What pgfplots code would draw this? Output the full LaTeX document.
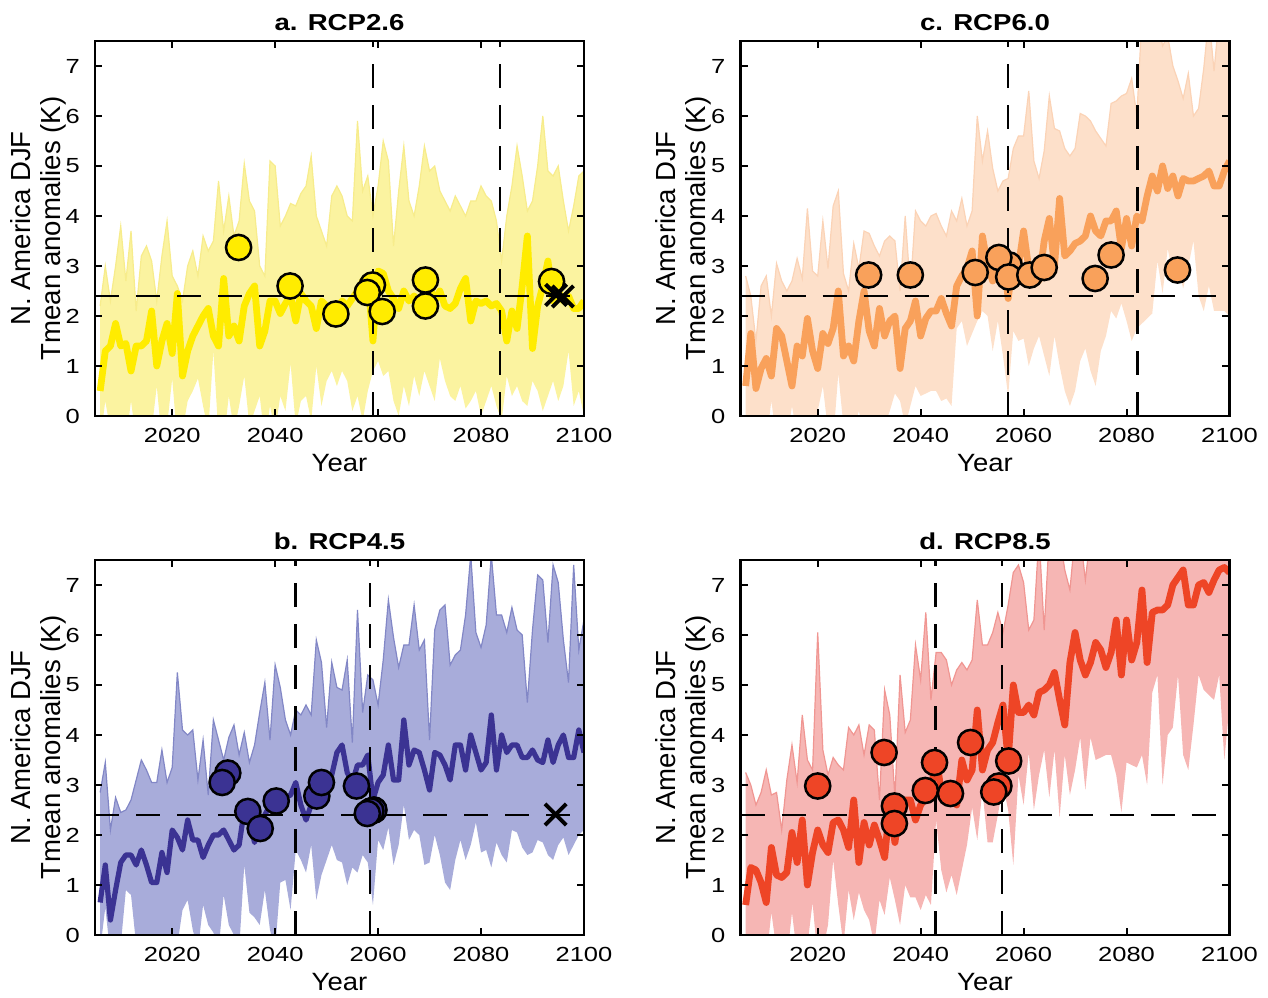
\documentclass[border=0pt]{standalone}
\usepackage{fontspec}
\setmainfont{Liberation Sans}
\usepackage{pgfplots}
\pgfplotsset{compat=1.18}
\usepackage{pgfplotstable}
\usepgfplotslibrary{fillbetween}

\definecolor{ya}{RGB}{255,236,0}
\definecolor{yband}{RGB}{251,243,160}
\definecolor{yedge}{RGB}{247,236,140}
\definecolor{oc}{RGB}{249,161,91}
\definecolor{oband}{RGB}{253,224,202}
\definecolor{oedge}{RGB}{251,211,182}
\definecolor{bc}{RGB}{59,51,147}
\definecolor{bband}{RGB}{168,172,218}
\definecolor{bedge}{RGB}{130,135,198}
\definecolor{rc}{RGB}{238,69,38}
\definecolor{rband}{RGB}{246,182,180}
\definecolor{redge}{RGB}{240,150,146}

\pgfplotstableread{
yr mean up lo
2006 0.5 2.2 -0.5
2007 1.3 3.0 0.3
2008 1.4 2.3 -0.3
2009 1.85 3.0 -0.5
2010 1.4 3.8 -0.3
2011 1.45 2.7 -0.5
2012 0.9 3.7 0.3
2013 1.4 2.1 -0.5
2014 1.4 3.2 -0.4
2015 1.5 3.4 -0.5
2016 2.1 3.1 -0.3
2017 1.0 2.3 0.6
2018 1.5 3.2 -0.5
2019 1.85 3.9 -0.2
2020 1.25 2.8 0.75
2021 2.45 2.6 -0.5
2022 0.8 2.3 -0.3
2023 1.3 3.0 0.3
2024 1.6 3.3 0.5
2025 1.8 2.8 0.75
2026 2.0 3.6 0.2
2027 2.15 3.3 -0.3
2028 1.6 3.5 1.3
2029 1.4 4.7 -0.4
2030 2.75 3.7 -0.5
2031 1.6 4.4 0.4
2032 1.8 3.6 -0.3
2033 1.5 3.9 0.2
2034 2.2 5.05 0.8
2035 2.45 4.3 -0.2
2036 2.6 4.1 0.1
2037 1.4 3.0 0.4
2038 1.7 2.8 -0.5
2039 2.3 5.1 0.2
2040 2.3 5.0 -0.3
2041 2.05 3.8 0.4
2042 2.25 4.0 0.1
2043 2.4 4.25 1.05
2044 1.9 4.2 -0.2
2045 2.45 4.45 0.3
2046 2.3 4.6 0.4
2047 2.2 5.2 -0.1
2048 1.75 4.0 1.0
2049 2.3 3.7 0.2
2050 2.2 3.4 0.7
2051 2.1 4.4 0.9
2052 2.15 4.6 0.6
2053 2.3 4.4 0.9
2054 2.2 4.0 0.7
2055 2.35 3.9 0.1
2056 2.5 5.9 0.4
2057 2.7 4.5 -0.1
2058 2.8 4.8 0.5
2059 1.5 4.0 0.9
2060 2.9 4.6 1.1
2061 2.85 5.5 0.8
2062 2.5 5.1 0.9
2063 2.35 3.4 0.3
2064 2.15 4.5 0.0
2065 2.5 5.4 0.6
2066 2.3 4.3 0.2
2067 2.4 4.0 0.8
2068 2.3 4.6 0.4
2069 2.45 5.4 0.9
2070 2.6 4.9 0.6
2071 2.3 5.0 0.3
2072 2.5 4.5 1.15
2073 2.2 4.3 0.7
2074 2.15 4.1 0.4
2075 2.25 4.4 0.3
2076 2.55 4.2 0.6
2077 2.75 4.0 0.15
2078 1.9 4.3 0.3
2079 2.3 4.3 0.5
2080 2.25 4.6 0.0
2081 2.3 4.4 0.3
2082 2.2 4.3 0.6
2083 2.25 3.9 0.2
2084 2.1 3.1 -0.1
2085 1.5 4.0 0.8
2086 2.1 4.6 0.4
2087 1.75 5.4 0.6
2088 2.6 4.8 0.3
2089 3.6 4.1 0.2
2090 1.35 4.3 0.7
2091 2.2 5.0 0.5
2092 2.6 6.0 0.1
2093 3.1 4.9 0.4
2094 2.3 4.8 0.7
2095 2.5 5.0 0.3
2096 2.3 4.3 0.6
2097 2.4 3.7 1.3
2098 2.15 4.2 0.2
2099 2.15 4.8 0.5
2100 2.3 4.9 0.0
}\tabA

\pgfplotstableread{
yr mean up lo
2006 0.6 2.8 -0.5
2007 1.65 2.4 -0.3
2008 0.55 1.5 -0.5
2009 0.95 2.6 -0.4
2010 1.15 2.8 -0.5
2011 0.8 2.0 0.3
2012 1.75 3.05 -0.5
2013 1.6 2.7 -0.3
2014 1.1 2.5 -0.5
2015 0.6 2.7 0.2
2016 1.4 3.15 -0.4
2017 1.2 2.75 -0.5
2018 1.95 4.15 -0.3
2019 1.3 2.9 -0.5
2020 0.95 2.8 0.1
2021 1.65 3.9 0.6
2022 1.45 2.95 -0.3
2023 1.75 4.2 -0.5
2024 2.5 4.5 0.85
2025 1.2 2.85 -0.2
2026 1.4 2.5 -0.5
2027 1.1 3.45 -0.3
2028 1.9 2.95 0.1
2029 2.5 3.7 -0.4
2030 1.7 3.65 -0.5
2031 1.4 3.4 -0.3
2032 2.15 3.2 -0.5
2033 1.6 3.5 -0.2
2034 1.9 3.6 0.1
2035 2.0 3.5 0.45
2036 0.95 2.5 0.3
2037 1.75 4.0 -0.2
2038 1.9 2.55 0.2
2039 2.3 4.1 0.6
2040 1.6 3.9 0.4
2041 1.95 3.8 0.45
2042 2.1 4.0 0.5
2043 2.1 4.05 0.5
2044 2.35 3.8 0.3
2045 2.05 3.6 0.35
2046 1.8 4.1 0.2
2047 2.6 3.9 1.75
2048 2.8 4.35 1.9
2049 2.95 3.8 1.4
2050 3.3 4.1 1.65
2051 2.0 6.0 1.9
2052 3.6 5.1 2.1
2053 3.0 5.7 2.0
2054 2.7 4.95 1.3
2055 3.0 4.5 1.9
2056 3.3 4.7 1.2
2057 2.35 4.75 0.4
2058 3.1 5.35 1.7
2059 3.0 5.6 1.5
2060 3.7 5.6 1.55
2061 2.95 6.5 1.0
2062 2.8 5.1 1.35
2063 2.7 4.75 1.6
2064 3.5 5.3 1.2
2065 3.95 6.4 0.8
2066 3.0 5.75 1.6
2067 4.35 5.7 1.0
2068 3.2 5.35 0.5
2069 3.3 5.2 0.2
2070 3.45 5.35 0.5
2071 3.5 6.05 1.1
2072 3.6 6.0 1.35
2073 4.0 5.9 0.9
2074 3.7 5.7 0.6
2075 3.6 5.55 1.3
2076 3.9 5.4 1.6
2077 3.9 6.25 2.1
2078 4.1 6.3 1.95
2079 3.35 6.4 2.25
2080 3.95 6.45 1.9
2081 3.4 6.75 1.5
2082 4.0 6.0 1.75
2083 3.9 8.0 1.85
2084 4.4 8.0 1.95
2085 4.8 7.6 2.05
2086 4.5 8.0 3.1
2087 5.0 7.4 2.45
2088 4.55 7.6 3.35
2089 4.8 7.0 2.8
2090 4.4 6.7 3.0
2091 4.75 6.35 2.55
2092 4.7 6.85 3.0
2093 4.7 6.0 3.5
2094 4.75 6.15 2.4
2095 4.8 6.95 2.1
2096 4.9 8.0 2.6
2097 4.6 6.9 2.1
2098 4.6 8.0 2.1
2099 4.9 8.0 2.1
2100 5.1 7.4 2.0
}\tabC

\pgfplotstableread{
yr mean up lo
2006 0.65 2.85 -0.3
2007 1.4 3.45 0.55
2008 0.3 2.1 -0.4
2009 0.9 2.75 -0.5
2010 1.45 2.45 -0.2
2011 1.6 2.5 0.9
2012 1.6 2.7 0.8
2013 1.4 3.1 -0.2
2014 1.7 3.5 -0.5
2015 1.4 3.3 -0.3
2016 1.05 3.05 -0.5
2017 1.05 3.05 -0.4
2018 1.65 3.7 -0.5
2019 1.25 3.05 -0.3
2020 2.1 3.35 -0.5
2021 1.95 5.25 -0.2
2022 1.7 4.1 0.5
2023 2.3 4.0 0.7
2024 1.9 4.1 0.1
2025 1.9 3.1 -0.3
2026 1.55 3.9 0.6
2027 1.8 2.8 0.2
2028 2.0 4.3 0.05
2029 2.0 3.9 -0.3
2030 2.1 3.5 0.8
2031 1.9 3.95 0.2
2032 1.7 4.2 0.0
2033 1.8 3.6 -0.3
2034 2.5 4.05 1.4
2035 2.3 3.45 0.45
2036 1.85 3.8 0.35
2037 2.25 4.45 0.2
2038 2.4 5.05 0.9
2039 2.6 3.9 0.1
2040 2.65 5.4 -0.3
2041 2.7 4.95 1.05
2042 2.75 4.3 1.1
2043 2.8 4.0 0.5
2044 3.05 4.5 1.7
2045 2.6 4.4 1.5
2046 2.3 4.6 1.25
2047 2.6 4.4 1.8
2048 2.85 5.9 0.7
2049 2.9 5.45 1.2
2050 3.0 4.15 1.5
2051 3.2 5.45 1.8
2052 3.65 4.95 1.5
2053 3.8 4.9 1.45
2054 3.25 5.5 1.0
2055 3.05 3.85 1.35
2056 3.4 6.5 1.25
2057 3.4 4.45 1.6
2058 3.6 5.2 1.45
2059 2.7 5.1 0.6
2060 3.05 4.6 1.9
2061 3.2 5.5 1.7
2062 3.8 6.7 2.15
2063 3.1 5.95 1.4
2064 3.1 5.35 1.8
2065 4.3 5.8 2.6
2066 3.4 5.8 1.9
2067 3.7 6.6 2.1
2068 3.65 5.7 2.0
2069 3.3 5.9 1.4
2070 2.9 3.9 1.45
2071 3.65 6.1 2.0
2072 3.6 6.5 1.6
2073 3.4 6.6 1.05
2074 3.1 5.4 0.9
2075 3.8 5.6 1.5
2076 3.8 5.7 1.9
2077 3.3 6.4 1.5
2078 4.0 7.6 1.8
2079 3.65 6.05 2.25
2080 3.3 5.75 1.65
2081 3.45 6.2 1.7
2082 4.4 7.6 1.35
2083 3.3 6.4 1.85
2084 4.0 6.4 1.6
2085 3.65 6.05 1.45
2086 3.8 6.55 2.1
2087 3.8 6.1 2.05
2088 3.55 6.0 1.75
2089 3.55 4.65 1.6
2090 3.7 6.1 1.65
2091 3.5 7.2 1.9
2092 3.45 7.1 1.85
2093 3.9 5.85 1.6
2094 3.45 7.4 1.5
2095 3.8 7.05 1.8
2096 4.0 5.9 1.95
2097 3.55 5.05 1.6
2098 3.55 7.4 1.8
2099 4.1 5.7 2.0
2100 3.65 6.3 2.1
}\tabB

\pgfplotstableread{
yr mean up lo
2006 0.6 3.25 -0.5
2007 1.35 3.0 -0.3
2008 1.3 2.6 -0.5
2009 1.05 2.85 -0.4
2010 0.65 3.3 -0.5
2011 1.75 2.8 0.45
2012 1.2 2.85 -0.3
2013 1.15 2.1 0.0
2014 1.25 3.1 -0.5
2015 2.05 3.8 0.45
2016 1.45 3.05 -0.4
2017 2.3 4.4 -0.5
2018 1.0 3.5 -0.2
2019 1.65 3.3 0.65
2020 2.1 6.05 -0.5
2021 1.8 3.7 -0.3
2022 1.65 3.2 0.2
2023 2.25 3.55 1.5
2024 2.3 3.4 0.6
2025 2.1 3.3 -0.2
2026 1.75 4.15 0.9
2027 2.7 4.0 0.3
2028 1.45 4.2 0.85
2029 2.25 3.6 0.5
2030 1.8 4.2 0.3
2031 2.2 4.1 -0.2
2032 1.9 2.7 0.7
2033 1.55 4.9 0.4
2034 2.6 4.4 1.15
2035 1.85 2.75 0.7
2036 2.55 5.2 0.2
2037 2.7 4.05 1.0
2038 2.7 4.3 0.75
2039 2.3 5.8 0.75
2040 2.6 5.1 0.5
2041 2.75 6.45 0.8
2042 2.85 4.7 0.6
2043 3.6 5.65 2.3
2044 2.85 5.65 1.3
2045 3.0 5.5 0.85
2046 3.0 5.0 1.2
2047 2.6 5.3 0.8
2048 3.5 5.45 1.3
2049 3.1 5.3 1.8
2050 3.3 5.5 2.55
2051 4.5 6.7 1.9
2052 3.3 5.8 2.9
2053 3.7 5.8 1.85
2054 3.85 6.05 1.85
2055 4.25 6.45 2.4
2056 4.6 6.05 3.0
2057 3.5 6.6 2.5
2058 5.0 7.25 1.4
2059 4.45 7.4 3.2
2060 4.45 7.05 2.6
2061 4.6 6.1 3.65
2062 4.4 6.3 2.5
2063 4.85 8.0 3.2
2064 4.9 6.1 3.7
2065 5.0 8.0 2.75
2066 5.25 8.0 3.7
2067 4.7 8.0 2.35
2068 4.2 7.3 3.6
2069 5.45 6.9 2.8
2070 6.05 8.0 3.3
2071 5.5 8.0 3.95
2072 5.2 7.1 2.9
2073 5.45 8.0 3.95
2074 5.85 8.0 3.5
2075 5.7 8.0 3.55
2076 5.35 8.0 3.6
2077 5.65 8.0 3.6
2078 6.3 8.0 3.2
2079 5.2 8.0 2.45
2080 6.3 8.0 3.45
2081 5.5 8.0 3.4
2082 5.85 8.0 3.35
2083 6.9 8.0 3.6
2084 5.45 8.0 3.0
2085 6.45 8.0 4.85
2086 6.5 8.0 5.2
2087 6.5 8.0 3.0
2088 6.6 8.0 4.0
2089 7.0 8.0 4.15
2090 7.15 8.0 5.2
2091 7.3 8.0 3.6
2092 6.6 8.0 3.3
2093 6.6 8.0 4.2
2094 7.0 8.0 5.2
2095 7.05 8.0 4.9
2096 6.85 8.0 4.8
2097 7.1 8.0 4.7
2098 7.3 8.0 5.2
2099 7.35 8.0 3.5
2100 7.25 8.0 4.6
}\tabD

\pgfplotsset{
  panel/.style={
    scale only axis, width=244.5pt, height=187.5pt,
    anchor=south west,
    xmin=2005, xmax=2100, ymin=0, ymax=7.5,
    xtick={2020,2040,2060,2080,2100}, ytick={0,1,...,7},
    tick align=inside, major tick length=3.5pt,
    tick style={black, line width=1pt},
    axis line style={line width=1.2pt},
    /pgf/number format/assume math mode=true,
    /pgf/number format/1000 sep={},
    ticklabel style={font=\fontsize{10.2}{12}\selectfont, xscale=1.25},
    xticklabel style={anchor=base, yshift=-13.5pt},
    yticklabel style={xshift=-2.5pt},
    xlabel={Year},
    ylabel={N. America DJF\\Tmean anomalies (K)},
    xlabel style={font=\fontsize{12.5}{15}\selectfont, xscale=1.1, at={(axis description cs:0.5,-0.148)}, anchor=base},
    ylabel style={font=\fontsize{13.8}{15}\selectfont, at={(axis description cs:-0.045,0.5)}, anchor=south, align=center},
    title style={font=\bfseries\fontsize{11.5}{14}\selectfont, xscale=1.2, at={(axis description cs:0.5,1)}, anchor=base, yshift=-1pt},
    axis on top,
  },
  dashline/.style={black, line width=1.3pt, dash pattern=on 12pt off 8.5pt},
  circ/.style={only marks, mark=*, mark size=6.3pt, mark options={draw=black, fill=#1, line width=1.25pt}},
  xm/.style={only marks, mark=x, mark size=7.5pt, mark options={black, line width=2pt}},
}

\begin{document}
\begin{tikzpicture}
\path (0,0) rectangle (634pt,498pt);

% a. RCP2.6
\begin{axis}[panel, at={(47.5pt,290pt)}, title={a. RCP2.6}]
\addplot[draw=none, name path=Ua] table[x=yr,y=up]{\tabA};
\addplot[draw=none, name path=La] table[x=yr,y=lo]{\tabA};
\addplot[yband] fill between[of=Ua and La];
\addplot[yedge, line width=0.6pt] table[x=yr,y=up]{\tabA};
\addplot[ya, line width=3.4pt, line join=round] table[x=yr,y=mean]{\tabA};
\addplot[dashline] coordinates {(2005,2.4) (2099.5,2.4)};
\addplot[dashline] coordinates {(2059,0) (2059,7.5)};
\addplot[dashline] coordinates {(2083.7,0) (2083.7,7.5)};
\addplot[circ=ya] coordinates {(2032.9,3.37) (2042.9,2.6) (2051.8,2.04) (2058.9,2.62) (2057.9,2.47) (2060.8,2.09) (2069.2,2.72) (2069.2,2.2) (2093.7,2.69)};
\addplot[xm] coordinates {(2094.6,2.42) (2095.9,2.39)};
\end{axis}

% c. RCP6.0
\begin{axis}[panel, at={(370.25pt,290pt)}, title={c. RCP6.0}]
\addplot[draw=none, name path=Uc] table[x=yr,y=up]{\tabC};
\addplot[draw=none, name path=Lc] table[x=yr,y=lo]{\tabC};
\addplot[oband] fill between[of=Uc and Lc];
\addplot[oedge, line width=0.6pt] table[x=yr,y=up]{\tabC};
\addplot[oc, line width=3.4pt, line join=round] table[x=yr,y=mean]{\tabC};
\addplot[dashline] coordinates {(2005,2.4) (2097.5,2.4)};
\addplot[dashline] coordinates {(2057,0) (2057,7.5)};
\addplot[dashline] coordinates {(2082.1,0) (2082.1,7.5)};
\addplot[circ=oc] coordinates {(2029.9,2.82) (2038,2.82) (2050.6,2.87) (2057.2,3.02) (2055.2,3.17) (2057.1,2.78) (2061.2,2.82) (2064,2.97) (2073.9,2.75) (2077,3.22) (2089.9,2.92)};
\end{axis}

% b. RCP4.5
\begin{axis}[panel, at={(47.5pt,30.5pt)}, title={b. RCP4.5}]
\addplot[draw=none, name path=Ub] table[x=yr,y=up]{\tabB};
\addplot[draw=none, name path=Lb] table[x=yr,y=lo]{\tabB};
\addplot[bband] fill between[of=Ub and Lb];
\addplot[bedge, line width=0.6pt] table[x=yr,y=up]{\tabB};
\addplot[bc, line width=2.6pt, line join=round] table[x=yr,y=mean]{\tabB};
\addplot[dashline] coordinates {(2005,2.4) (2099.5,2.4)};
\addplot[dashline] coordinates {(2043.9,0) (2043.9,7.5)};
\addplot[dashline] coordinates {(2058.4,0) (2058.4,7.5)};
\addplot[circ=bc] coordinates {(2030.8,3.24) (2029.7,3.05) (2034.7,2.47) (2037.1,2.13) (2040.2,2.68) (2048.1,2.78) (2049,3.05) (2055.8,2.98) (2059.2,2.5) (2058.6,2.48) (2057.9,2.43)};
\addplot[xm] coordinates {(2094.5,2.41)};
\end{axis}

% d. RCP8.5
\begin{axis}[panel, at={(370.25pt,30.5pt)}, title={d. RCP8.5}]
\addplot[draw=none, name path=Ud] table[x=yr,y=up]{\tabD};
\addplot[draw=none, name path=Ld] table[x=yr,y=lo]{\tabD};
\addplot[rband] fill between[of=Ud and Ld];
\addplot[redge, line width=0.6pt] table[x=yr,y=up]{\tabD};
\addplot[rc, line width=3.4pt, line join=round] table[x=yr,y=mean]{\tabD};
\addplot[dashline] coordinates {(2005,2.4) (2097.5,2.4)};
\addplot[dashline] coordinates {(2042.9,0) (2042.9,7.5)};
\addplot[dashline] coordinates {(2055.8,0) (2055.8,7.5)};
\addplot[circ=rc] coordinates {(2020,2.98) (2032.9,3.65) (2034.9,2.58) (2034.9,2.23) (2040.9,2.89) (2042.7,3.45) (2045.8,2.83) (2049.7,3.85) (2055.2,2.98) (2054.2,2.86) (2057.1,3.48)};
\end{axis}
\end{tikzpicture}
\end{document}
